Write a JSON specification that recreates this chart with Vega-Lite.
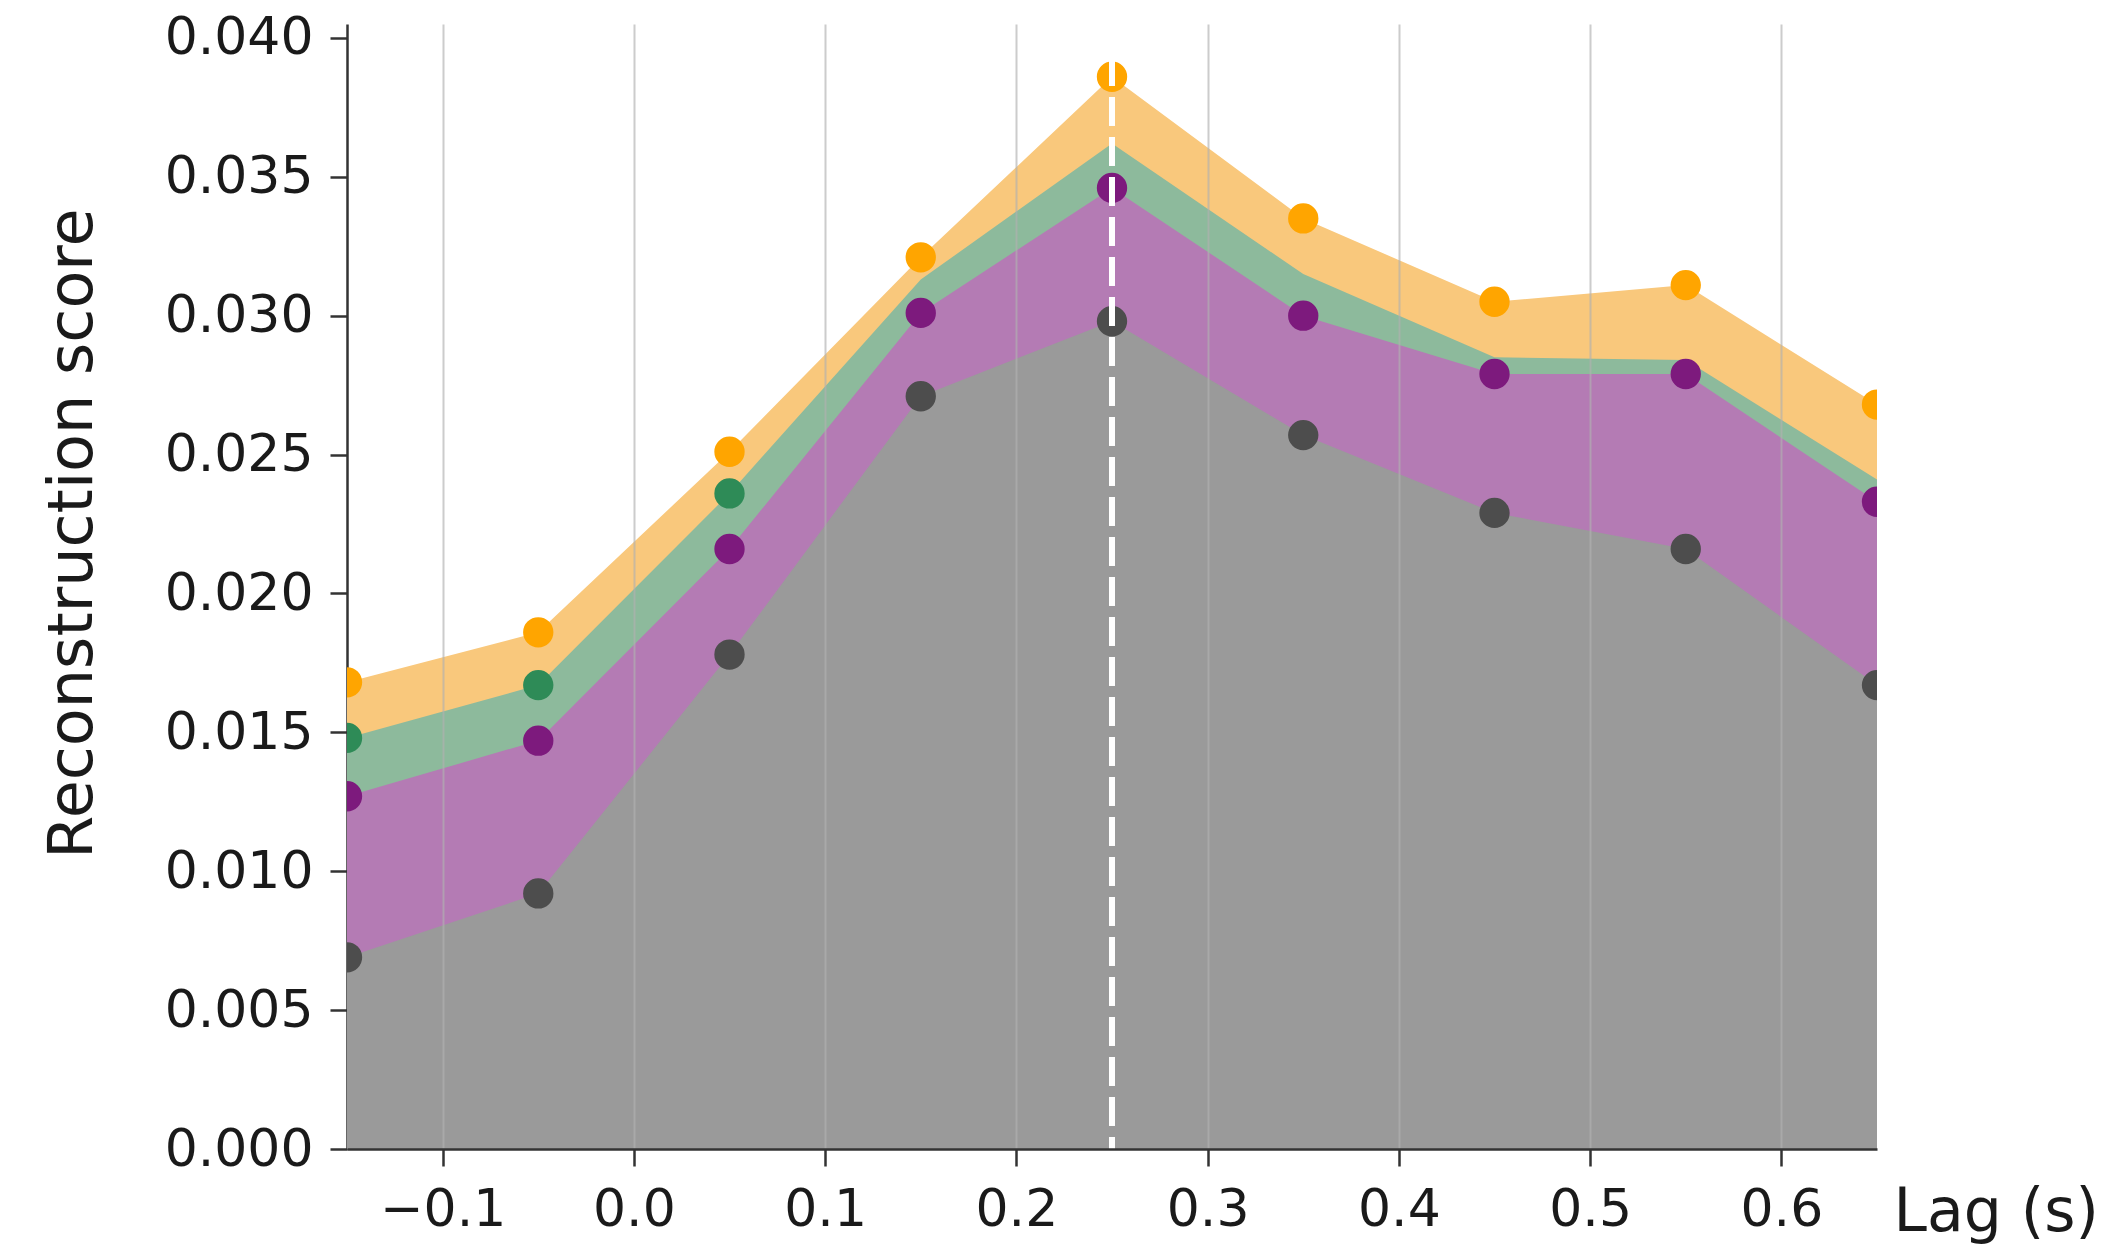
{
  "$schema": "https://vega.github.io/schema/vega-lite/v6.json",
  "width": 1530,
  "height": 1125,
  "autosize": {"type": "none"},
  "padding": {"left": 347, "top": 24, "right": 229, "bottom": 95},
  "background": "white",
  "config": {
    "view": {"stroke": null},
    "font": "DejaVu Sans",
    "axis": {
      "labelFont": "DejaVu Sans",
      "titleFont": "DejaVu Sans",
      "titleFontWeight": "normal",
      "labelColor": "#1a1a1a",
      "titleColor": "#1a1a1a",
      "domainColor": "#333333",
      "domainWidth": 2.5,
      "tickColor": "#333333",
      "tickWidth": 2.5,
      "tickSize": 17,
      "labelFontSize": 52,
      "titleFontSize": 60,
      "labelOverlap": false,
      "labelFlush": false
    }
  },
  "datasets": {
    "scores": [
      {"lag": -0.15, "series": "orange", "score": 0.0168, "dot": true},
      {"lag": -0.05, "series": "orange", "score": 0.0186, "dot": true},
      {"lag": 0.05, "series": "orange", "score": 0.0251, "dot": true},
      {"lag": 0.15, "series": "orange", "score": 0.0321, "dot": true},
      {"lag": 0.25, "series": "orange", "score": 0.0386, "dot": true},
      {"lag": 0.35, "series": "orange", "score": 0.0335, "dot": true},
      {"lag": 0.45, "series": "orange", "score": 0.0305, "dot": true},
      {"lag": 0.55, "series": "orange", "score": 0.0311, "dot": true},
      {"lag": 0.65, "series": "orange", "score": 0.0268, "dot": true},
      {"lag": -0.15, "series": "green", "score": 0.0148, "dot": true},
      {"lag": -0.05, "series": "green", "score": 0.0167, "dot": true},
      {"lag": 0.05, "series": "green", "score": 0.0236, "dot": true},
      {"lag": 0.15, "series": "green", "score": 0.0313, "dot": false},
      {"lag": 0.25, "series": "green", "score": 0.0362, "dot": false},
      {"lag": 0.35, "series": "green", "score": 0.0315, "dot": false},
      {"lag": 0.45, "series": "green", "score": 0.0285, "dot": false},
      {"lag": 0.55, "series": "green", "score": 0.0284, "dot": false},
      {"lag": 0.65, "series": "green", "score": 0.0241, "dot": false},
      {"lag": -0.15, "series": "purple", "score": 0.0127, "dot": true},
      {"lag": -0.05, "series": "purple", "score": 0.0147, "dot": true},
      {"lag": 0.05, "series": "purple", "score": 0.0216, "dot": true},
      {"lag": 0.15, "series": "purple", "score": 0.0301, "dot": true},
      {"lag": 0.25, "series": "purple", "score": 0.0346, "dot": true},
      {"lag": 0.35, "series": "purple", "score": 0.0300, "dot": true},
      {"lag": 0.45, "series": "purple", "score": 0.0279, "dot": true},
      {"lag": 0.55, "series": "purple", "score": 0.0279, "dot": true},
      {"lag": 0.65, "series": "purple", "score": 0.0233, "dot": true},
      {"lag": -0.15, "series": "gray", "score": 0.0069, "dot": true},
      {"lag": -0.05, "series": "gray", "score": 0.0092, "dot": true},
      {"lag": 0.05, "series": "gray", "score": 0.0178, "dot": true},
      {"lag": 0.15, "series": "gray", "score": 0.0271, "dot": true},
      {"lag": 0.25, "series": "gray", "score": 0.0298, "dot": true},
      {"lag": 0.35, "series": "gray", "score": 0.0257, "dot": true},
      {"lag": 0.45, "series": "gray", "score": 0.0229, "dot": true},
      {"lag": 0.55, "series": "gray", "score": 0.0216, "dot": true},
      {"lag": 0.65, "series": "gray", "score": 0.0167, "dot": true}
    ]
  },
  "data": {"name": "scores"},
  "encoding": {
    "x": {
      "field": "lag",
      "type": "quantitative",
      "scale": {"domain": [-0.15, 0.65], "nice": false, "zero": false},
      "axis": {
        "title": "Lag (s)",
        "values": [-0.1, 0, 0.1, 0.2, 0.3, 0.4, 0.5, 0.6],
        "format": ".1f",
        "grid": true,
        "gridColor": "#b0b0b0",
        "gridOpacity": 0.65,
        "gridWidth": 2,
        "zindex": 1,
        "labelPadding": 18,
        "titleX": 1546,
        "titleY": 81,
        "titleAlign": "left",
        "titleBaseline": "alphabetic",
        "titleAngle": 0
      }
    },
    "y": {
      "field": "score",
      "type": "quantitative",
      "scale": {"domain": [0, 0.0405], "nice": false},
      "axis": {
        "title": "Reconstruction score",
        "values": [0, 0.005, 0.01, 0.015, 0.02, 0.025, 0.03, 0.035, 0.04],
        "format": ".3f",
        "grid": false,
        "labelPadding": 17,
        "titleFontSize": 62,
        "titleX": -256,
        "titleY": 509,
        "titleAngle": -90,
        "titleAlign": "center",
        "titleBaseline": "alphabetic"
      }
    }
  },
  "layer": [
    {
      "transform": [{"filter": "datum.series === 'orange'"}],
      "mark": {"type": "area", "color": "#f9c87c", "clip": true, "opacity": 1},
      "encoding": {"y": {"field": "score", "type": "quantitative", "stack": null}}
    },
    {
      "transform": [{"filter": "datum.series === 'green'"}],
      "mark": {"type": "area", "color": "#8dba9c", "clip": true, "opacity": 1},
      "encoding": {"y": {"field": "score", "type": "quantitative", "stack": null}}
    },
    {
      "transform": [{"filter": "datum.series === 'purple'"}],
      "mark": {"type": "area", "color": "#b47bb4", "clip": true, "opacity": 1},
      "encoding": {"y": {"field": "score", "type": "quantitative", "stack": null}}
    },
    {
      "transform": [{"filter": "datum.series === 'gray'"}],
      "mark": {"type": "area", "color": "#9a9a9a", "clip": true, "opacity": 1},
      "encoding": {"y": {"field": "score", "type": "quantitative", "stack": null}}
    },
    {
      "transform": [{"filter": "datum.dot"}],
      "mark": {"type": "circle", "size": 920, "opacity": 1, "clip": true},
      "encoding": {
        "color": {
          "field": "series",
          "type": "nominal",
          "scale": {"domain": ["orange", "green", "purple", "gray"], "range": ["#ffa500", "#2e8b57", "#7d1a7d", "#4d4d4d"]},
          "legend": null
        }
      }
    },
    {
      "mark": {"type": "rule", "color": "white", "strokeWidth": 6, "strokeDash": [28, 12], "clip": true},
      "encoding": {
        "x": {"datum": 0.25},
        "y": {"datum": 0.0393},
        "y2": {"datum": 0}
      }
    }
  ]
}
